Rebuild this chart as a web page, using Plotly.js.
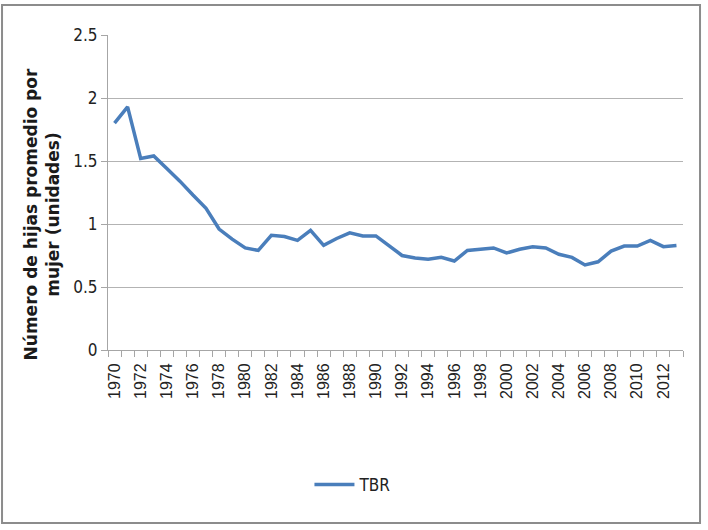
<!DOCTYPE html>
<html>
<head>
<meta charset="utf-8">
<script src="https://cdn.plot.ly/plotly-3.0.1.min.js"></script>
<style>
  html, body { margin: 0; padding: 0; background: #ffffff; }
  #chart { width: 708px; height: 530px; }
</style>
</head>
<body>
<div id="chart"></div>
<script>
const years = [1970,1971,1972,1973,1974,1975,1976,1977,1978,1979,
               1980,1981,1982,1983,1984,1985,1986,1987,1988,1989,
               1990,1991,1992,1993,1994,1995,1996,1997,1998,1999,
               2000,2001,2002,2003,2004,2005,2006,2007,2008,2009,
               2010,2011,2012,2013];
const tbr = [1.80,1.93,1.52,1.54,1.44,1.34,1.23,1.125,0.96,0.88,
             0.81,0.79,0.91,0.90,0.87,0.95,0.83,0.885,0.93,0.905,
             0.905,0.83,0.75,0.73,0.72,0.735,0.706,0.79,0.80,0.81,
             0.77,0.80,0.82,0.81,0.76,0.735,0.675,0.70,0.785,0.825,
             0.825,0.87,0.82,0.83];
const xTickVals = [1970,1972,1974,1976,1978,1980,1982,1984,1986,1988,1990,
                   1992,1994,1996,1998,2000,2002,2004,2006,2008,2010,2012];
const xTickText = xTickVals.map(String);
const yTickVals = [0,0.5,1,1.5,2,2.5];
const yTickText = ['0','0.5','1','1.5','2','2.5'];
const seriesName = 'TBR';
const yTitle = 'Número de hijas promedio por<br>mujer (unidades)';

const narrow = '"Liberation Sans Narrow", "Arial Narrow", "DejaVu Sans Condensed", sans-serif';

const trace = {
  x: years, y: tbr, name: seriesName, type: 'scatter', mode: 'lines',
  line: {color: '#4a7ebb', width: 3.5},
  showlegend: true
};

const layout = {
  width: 708, height: 530,
  margin: {l: 108, r: 25, t: 35, b: 180},
  paper_bgcolor: '#ffffff', plot_bgcolor: '#ffffff',
  showlegend: true,
  xaxis: {
    range: [1969.5, 2013.5],
    tickvals: xTickVals, ticktext: xTickText,
    tickangle: -90,
    ticks: '',
    tickfont: {family: 'Liberation Sans, Arial, sans-serif', size: 16, color: '#222'},
    ticklabelstandoff: 6,
    showgrid: false, zeroline: false,
    showline: true, linecolor: '#a6a6a6', linewidth: 1,
    minor: {tick0: 1969.5, dtick: 1, ticks: 'outside', ticklen: 6, tickcolor: '#a6a6a6', showgrid: false}
  },
  yaxis: {
    range: [0, 2.5],
    tickvals: yTickVals, ticktext: yTickText,
    ticks: 'outside', ticklen: 6, tickcolor: '#a6a6a6',
    tickfont: {family: narrow, size: 17, color: '#222'},
    showgrid: true, gridcolor: '#b3b3b3', gridwidth: 1,
    zeroline: false,
    showline: true, linecolor: '#a6a6a6', linewidth: 1
  },
  annotations: [{
    text: yTitle, textangle: -90, showarrow: false,
    xref: 'paper', yref: 'paper', x: -0.115, y: 0.43,
    xanchor: 'center', yanchor: 'middle', align: 'center',
    font: {family: '"DejaVu Sans", sans-serif', size: 17, color: '#1a1a1a', weight: 'bold'}
  }],
  legend: {
    orientation: 'h', x: 0.426, xanchor: 'center', y: -0.4286, yanchor: 'middle',
    font: {family: narrow, size: 17, color: '#222'},
    itemwidth: 40
  },
  shapes: [{
    type: 'rect', xref: 'paper', yref: 'paper',
    x0: -0.1843, x1: 1.0296, y0: -0.549, y1: 1.0952,
    line: {color: '#8c8c8c', width: 2}
  }]
};

Plotly.newPlot('chart', [trace], layout, {displayModeBar: false, staticPlot: true});
</script>
</body>
</html>
